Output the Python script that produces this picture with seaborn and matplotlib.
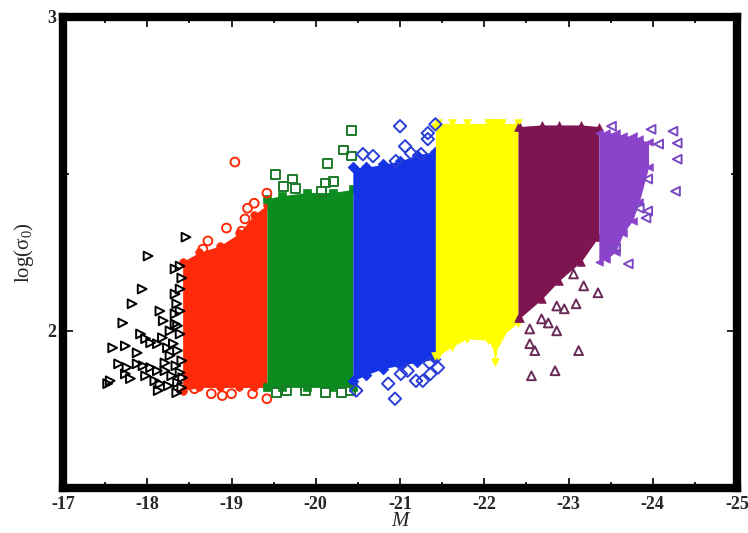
import matplotlib
matplotlib.use("Agg")
import matplotlib.pyplot as plt
from matplotlib.ticker import MultipleLocator, FixedLocator
import seaborn as sns
import pandas as pd

# ---------------------------------------------------------------
# Dense cores of each magnitude bin: sampled M positions with the
# lower and upper envelope of log(sigma_0)
# ---------------------------------------------------------------
red_m = [-18.42, -18.62, -18.86, -19.09, -19.27, -19.42]
red_lo = [1.81, 1.82, 1.82, 1.82, 1.82, 1.82]
red_hi = [2.22, 2.25, 2.27, 2.31, 2.37, 2.40]

green_m = [-19.42, -19.6, -19.9, -20.2, -20.44]
green_lo = [1.82, 1.82, 1.82, 1.82, 1.82]
green_hi = [2.42, 2.43, 2.44, 2.44, 2.45]

blue_m = [-20.44, -20.6, -20.8, -21.0, -21.2, -21.42]
blue_lo = [1.84, 1.86, 1.88, 1.89, 1.90, 1.91]
blue_hi = [2.52, 2.52, 2.53, 2.54, 2.56, 2.57]

yellow_m = [-21.42, -21.45, -21.62, -21.8, -22.04, -22.09, -22.13, -22.16, -22.21, -22.4]
yellow_lo = [1.92, 1.92, 1.95, 1.975, 1.97, 1.96, 1.90, 1.96, 1.985, 2.025]
yellow_hi = [2.65, 2.66, 2.66, 2.66, 2.66, 2.66, 2.66, 2.66, 2.66, 2.66]

maroon_m = [-22.4, -22.42, -22.68, -22.89, -23.15, -23.36]
maroon_lo = [2.04, 2.04, 2.10, 2.16, 2.22, 2.30]
maroon_hi = [2.65, 2.65, 2.655, 2.655, 2.655, 2.65]

violet_m = [-23.36, -23.45, -23.56, -23.65, -23.76, -23.84, -23.95]
violet_lo = [2.22, 2.23, 2.25, 2.31, 2.35, 2.41, 2.52]
violet_hi = [2.63, 2.63, 2.63, 2.62, 2.62, 2.61, 2.60]

# ---------------------------------------------------------------
# Individually visible galaxies around the cores
# ---------------------------------------------------------------
black_m = [-18.46, -18.01, -18.33, -18.39, -17.94, -17.82, -18.15, -18.19, -17.71,
           -17.92, -17.98, -18.04, -18.12, -17.59, -17.74, -17.66, -17.76, -17.88,
           -17.95, -18.04, -18.12, -17.53, -17.56, -17.74, -18.15, -18.13, -18.35,
           -18.27, -18.31, -18.33, -18.35, -18.33, -18.39, -18.41, -18.39, -18.39,
           -18.41, -18.42, -18.41, -17.88, -18.21, -18.24, -18.18, -18.36, -18.34,
           -18.39, -18.36, -18.29, -18.25, -18.33, -18.36, -18.27, -18.21, -18.09,
           -17.98, -17.80]
black_s = [2.298, 2.238, 2.197, 2.206, 2.133, 2.086, 2.063, 2.032, 2.025,
           1.990, 1.975, 1.962, 1.959, 1.946, 1.952, 1.895, 1.883, 1.895,
           1.889, 1.883, 1.873, 1.832, 1.841, 1.863, 1.832, 1.810, 1.803,
           1.921, 1.959, 2.022, 2.086, 2.117, 2.133, 2.168, 2.063, 1.990,
           1.905, 1.851, 1.819, 1.930, 1.898, 1.946, 1.978, 1.937, 1.889,
           1.867, 1.835, 1.857, 1.825, 2.054, 2.016, 2.000, 1.873, 1.841,
           1.857, 1.848]

red_out_m = [-19.04, -19.42, -19.27, -19.19, -19.16, -18.94, -19.12, -18.72, -18.66,
             -18.65, -18.56, -18.76, -18.89, -19.00, -19.25, -19.42]
red_out_s = [2.537, 2.438, 2.406, 2.390, 2.356, 2.327, 2.317, 2.286, 2.260,
             2.229, 1.816, 1.800, 1.794, 1.800, 1.800, 1.784]

green_out_m = [-19.52, -19.72, -19.62, -19.76, -20.14, -20.33, -20.42, -20.12, -20.21,
               -20.07, -20.42, -19.53, -19.65, -19.88, -20.12, -20.31, -20.41]
green_out_s = [2.498, 2.483, 2.460, 2.454, 2.533, 2.575, 2.556, 2.470, 2.476,
               2.444, 2.638, 1.803, 1.810, 1.810, 1.803, 1.803, 1.810]

blue_out_m = [-21.00, -21.42, -21.33, -21.33, -21.06, -20.56, -20.68, -20.95, -21.13,
              -21.25, -20.48, -20.94, -21.19, -20.86, -21.01, -21.09, -21.36, -21.45,
              -21.35, -21.27]
blue_out_s = [2.651, 2.657, 2.629, 2.610, 2.587, 2.562, 2.556, 2.540, 2.565,
              2.562, 1.810, 1.784, 1.841, 1.832, 1.863, 1.873, 1.863, 1.883,
              1.898, 1.841]

maroon_out_m = [-22.54, -22.86, -22.54, -22.60, -23.12, -22.56, -22.84, -23.35, -23.09,
                -22.95, -22.86, -23.18, -23.06, -22.68, -22.76]
maroon_out_s = [2.006, 2.000, 1.959, 1.937, 1.937, 1.857, 1.873, 2.121, 2.086,
                2.070, 2.079, 2.143, 2.181, 2.038, 2.025]

violet_out_m = [-23.98, -24.24, -24.07, -24.29, -24.29, -24.27, -23.94, -23.84, -23.94,
                -23.92, -23.71, -23.56, -23.51]
violet_out_s = [2.641, 2.635, 2.594, 2.597, 2.546, 2.444, 2.483, 2.390, 2.381,
                2.359, 2.213, 2.263, 2.651]

x_ticks = [-17, -18, -19, -20, -21, -22, -23, -24, -25]
y_ticks = [2, 3]

# colours of the magnitude bins
C_BLACK = "#000000"
C_RED = "#ff2a0a"
C_GREEN = "#0a8c1e"
C_BLUE = "#1432e6"
C_YELLOW = "#ffff00"
C_MAROON = "#7e1450"
C_VIOLET = "#8a44cc"

sns.set_theme(style="white")
plt.rcParams["font.family"] = ["Liberation Serif", "DejaVu Serif"]
plt.rcParams["mathtext.fontset"] = "custom"
plt.rcParams["mathtext.rm"] = "Liberation Serif"
plt.rcParams["mathtext.it"] = "Liberation Serif:italic"

fig = plt.figure(figsize=(7.48, 5.33), dpi=100)
ax = fig.add_axes([63 / 748, 1 - 488 / 533, (737 - 63) / 748, (488 - 16.5) / 533])

# filled cores, with their envelope points drawn as filled markers
# so the outline keeps the grain of the individual galaxies
cores = [
    (red_m, red_lo, red_hi, C_RED, "o"),
    (green_m, green_lo, green_hi, C_GREEN, "s"),
    (blue_m, blue_lo, blue_hi, C_BLUE, "D"),
    (yellow_m, yellow_lo, yellow_hi, C_YELLOW, "v"),
    (maroon_m, maroon_lo, maroon_hi, C_MAROON, "^"),
    (violet_m, violet_lo, violet_hi, C_VIOLET, "<"),
]
for m, lo, hi, c, mk in cores:
    ax.fill_between(m, lo, hi, color=c, linewidth=0, zorder=2)
    edge = pd.DataFrame({"M": m + m, "logsig": lo + hi})
    sns.scatterplot(data=edge, x="M", y="logsig", marker=mk, s=30, color=c,
                    edgecolor=c, linewidth=0.5, ax=ax, zorder=2)

# individual galaxies as open markers
outliers = [
    (black_m, black_s, ">", C_BLACK),
    (red_out_m, red_out_s, "o", C_RED),
    (green_out_m, green_out_s, "s", "#1d7a2a"),
    (blue_out_m, blue_out_s, "D", "#2a3ed8"),
    (maroon_out_m, maroon_out_s, "^", "#6a2a58"),
    (violet_out_m, violet_out_s, "<", "#7a48c0"),
]
for m, s, mk, c in outliers:
    df = pd.DataFrame({"M": m, "logsig": s})
    sns.scatterplot(data=df, x="M", y="logsig", marker=mk, s=40, color=c,
                    facecolor="none", edgecolor=c, linewidth=1.4, ax=ax, zorder=3)

ax.set_xlim(-17, -25)
ax.set_ylim(1.5, 3)
ax.xaxis.set_major_locator(FixedLocator(x_ticks))
ax.xaxis.set_minor_locator(MultipleLocator(0.5))
ax.yaxis.set_major_locator(FixedLocator(y_ticks))
ax.yaxis.set_minor_locator(MultipleLocator(0.5))
ax.set_xticklabels([str(t) for t in x_ticks], fontweight="bold")
ax.set_yticklabels([str(t) for t in y_ticks], fontweight="bold")

ax.tick_params(which="both", direction="in", top=True, right=True,
               bottom=True, left=True, color="black", labelsize=13)
ax.tick_params(axis="x", pad=6)
ax.tick_params(axis="y", pad=5)
ax.tick_params(which="major", length=7, width=1.2)
ax.tick_params(which="minor", length=4, width=1.2)

for sp in ax.spines.values():
    sp.set_visible(True)
    sp.set_linewidth(6)
    sp.set_color("black")

ax.set_xlabel("M", fontstyle="italic", fontsize=15, labelpad=-1)
ax.set_ylabel(r"log($\mathregular{σ_0}$)", fontsize=15, labelpad=8)
ax.grid(False)

fig.savefig("out.png", dpi=100)
